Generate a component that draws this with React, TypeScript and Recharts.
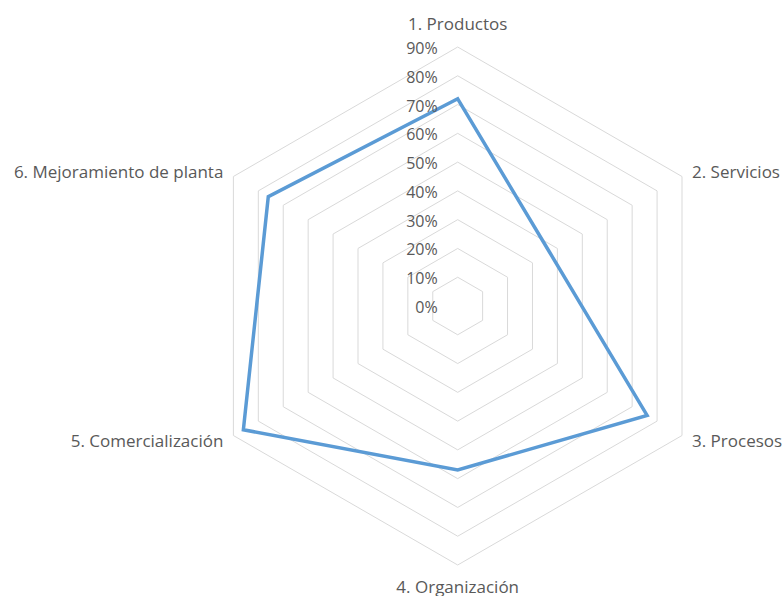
import React from "react";
import { PolarAngleAxis, PolarGrid, PolarRadiusAxis, Radar, RadarChart } from "recharts";

const categories = [
  "1. Productos",
  "2. Servicios",
  "3. Procesos",
  "4. Organización",
  "5. Comercialización",
  "6. Mejoramiento de planta",
];
const values = [0.72, 0.37, 0.76, 0.57, 0.86, 0.76];
const radiusTicks = [0, 0.1, 0.2, 0.3, 0.4, 0.5, 0.6, 0.7, 0.8, 0.9];

const data = categories.map((name, i) => ({ name, value: values[i] }));

const CX = 457.7;
const CY = 306;
// radius of the 90% ring; recharts pads the domain to 100%
const R = 259;
const FONT = "'Open Sans', sans-serif";
const TEXT = "#595959";

function AngleTick(props: any) {
  const { payload } = props;
  const deg = payload.coordinate;
  const rad = (deg * Math.PI) / 180;
  const cos = Math.cos(rad);
  const sin = Math.sin(rad);
  let x = CX + R * cos;
  let y = CY - R * sin;
  let anchor: "start" | "middle" | "end" = "middle";
  if (Math.abs(cos) < 0.01) {
    y += sin > 0 ? -24 : 21;
  } else {
    anchor = cos > 0 ? "start" : "end";
    x += cos > 0 ? 10 : -10;
    y += sin > 0 ? -5 : 5;
  }
  return (
    <text x={x} y={y} textAnchor={anchor} dominantBaseline="central" fill={TEXT} fontSize={17} fontFamily={FONT}>
      {payload.value}
    </text>
  );
}

function RadiusTick(props: any) {
  const { x, y, payload } = props;
  return (
    <text x={x - 20} y={y + 1} textAnchor="end" dominantBaseline="central" fill={TEXT} fontSize={16} fontFamily={FONT}>
      {Math.round(payload.value * 100)}%
    </text>
  );
}

export default function App() {
  return (
    <div style={{ position: "absolute", left: 0, top: 0, width: 783, height: 596, background: "#fff" }}>
      <RadarChart width={783} height={596} data={data} cx={CX} cy={CY} outerRadius={R / 0.9}>
        <PolarGrid radialLines={false} stroke="#d9d9d9" />
        <PolarAngleAxis dataKey="name" tick={AngleTick} tickLine={false} axisLine={false} />
        <PolarRadiusAxis
          angle={90}
          type="number"
          domain={[0, 1]}
          ticks={radiusTicks as any}
          tick={RadiusTick}
          axisLine={false}
          tickLine={false}
        />
        <Radar
          dataKey="value"
          stroke="#5b9bd5"
          strokeWidth={3.5}
          fill="none"
          fillOpacity={0}
          dot={false}
          isAnimationActive={false}
        />
      </RadarChart>
    </div>
  );
}
